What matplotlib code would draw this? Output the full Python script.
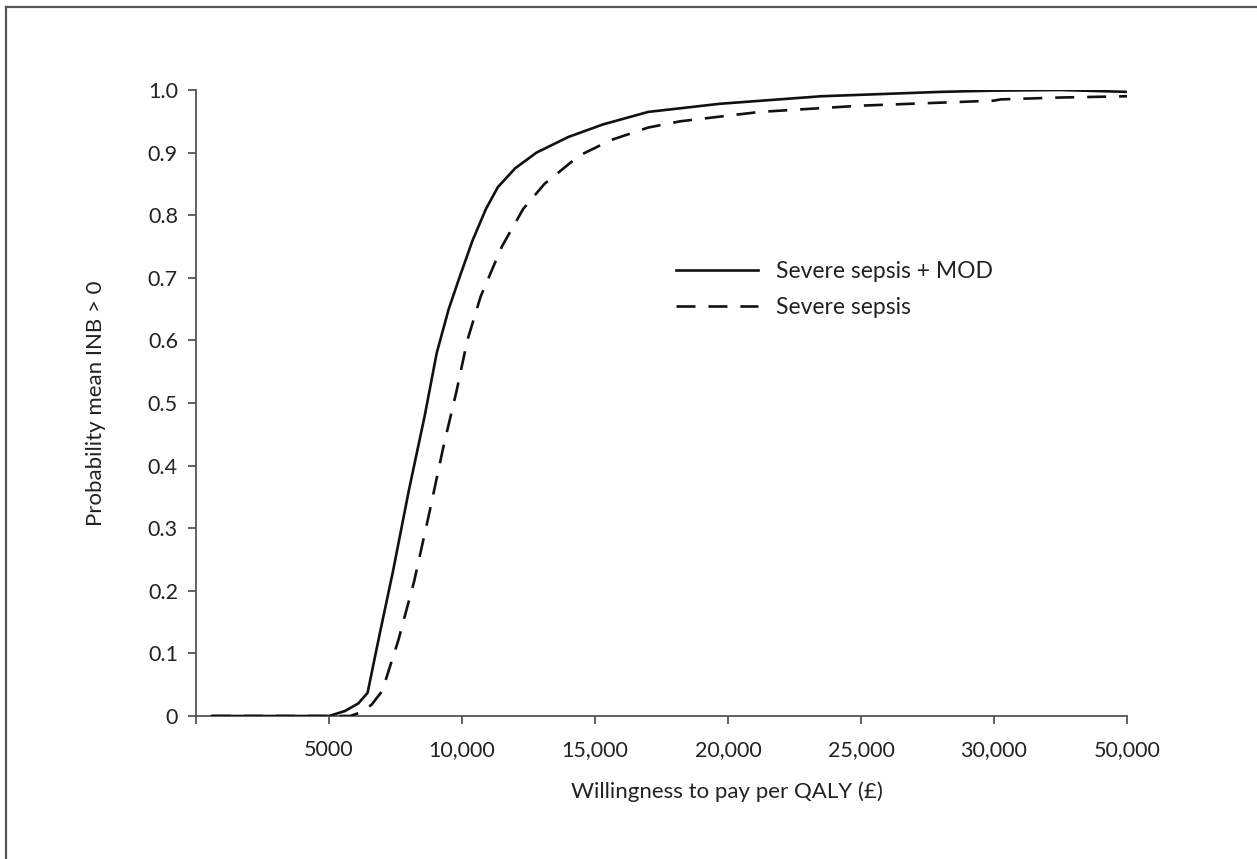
import numpy as np
import matplotlib
matplotlib.use("Agg")
import matplotlib.pyplot as plt
from matplotlib.lines import Line2D

# ---- data ----
tick_values = [0, 5000, 10000, 15000, 20000, 25000, 30000, 50000]
tick_labels = ["", "5000", "10,000", "15,000", "20,000", "25,000", "30,000", "50,000"]

wtp_mod = [600, 2000, 4000, 5000, 5600, 6100, 6450, 6900, 7400, 8000, 8600, 9050,
           9500, 9900, 10400, 10900, 11350, 12000, 12800, 14000, 15300, 17000,
           19700, 23500, 28000, 30000, 40000, 50000]
p_mod = [0, 0, 0, 0, 0.008, 0.02, 0.037, 0.13, 0.23, 0.36, 0.48, 0.58,
         0.65, 0.70, 0.76, 0.81, 0.845, 0.875, 0.90, 0.925, 0.945, 0.965,
         0.978, 0.99, 0.997, 0.999, 1.0, 0.997]

wtp_sep = [600, 3000, 5000, 5800, 6200, 6600, 7000, 7600, 8200, 8800, 9300, 9800,
           10200, 10700, 11500, 12300, 13100, 14400, 15600, 17000, 18200, 21200,
           25000, 30000, 31000, 40000, 50000]
p_sep = [0, 0, 0, 0, 0.006, 0.018, 0.04, 0.12, 0.215, 0.33, 0.43, 0.52,
         0.60, 0.67, 0.75, 0.81, 0.85, 0.895, 0.92, 0.94, 0.95, 0.965,
         0.975, 0.983, 0.985, 0.988, 0.99]

series_labels = ["Severe sepsis + MOD", "Severe sepsis"]

# ---- styling ----
plt.rcParams['font.family'] = ['Lato', 'DejaVu Sans']
txt = "#222222"
axc = "#555555"

fig = plt.figure(figsize=(12.57, 8.59), dpi=100)
W, H = 1257, 859
ax = fig.add_axes([196 / W, 1 - 716 / H, (1127 - 196) / W, (716 - 90) / H])

positions = np.arange(len(tick_values))


def to_pos(v):
    return np.interp(v, tick_values, positions)


ax.plot(to_pos(wtp_mod), p_mod, color="#111111", lw=1.9,
        solid_joinstyle="round", label=series_labels[0], zorder=3)
ax.plot(to_pos(wtp_sep), p_sep, color="#111111", lw=1.9, dashes=(7.2, 4.9),
        label=series_labels[1], zorder=3)

ax.set_xlim(0, len(tick_values) - 1)
ax.set_ylim(0, 1.0)
ax.set_xticks(positions)
ax.set_xticklabels(tick_labels)
yt = np.round(np.arange(0, 1.01, 0.1), 1)
ax.set_yticks(yt)
ax.set_yticklabels(["0"] + [f"{v:.1f}" for v in yt[1:]])

for s in ["top", "right"]:
    ax.spines[s].set_visible(False)
for s in ["left", "bottom"]:
    ax.spines[s].set_color(axc)
    ax.spines[s].set_linewidth(1.3)

ax.tick_params(axis="both", direction="out", color=axc, width=1.3, length=6,
               labelsize=15.5, labelcolor=txt)
ax.tick_params(axis="y", pad=7)
ax.tick_params(axis="x", pad=11)

ax.set_xlabel("Willingness to pay per QALY (£)", fontsize=16, color=txt)
ax.xaxis.set_label_coords((727 - 196) / (1127 - 196), -(792 - 716) / (716 - 90))
ax.xaxis.label.set_verticalalignment("center")
ax.set_ylabel("Probability mean INB > 0", fontsize=16, color=txt, labelpad=30)

leg = ax.legend(loc="upper left", bbox_to_anchor=(0.4934, 0.759), frameon=False,
                fontsize=16.5, handlelength=3.58, handletextpad=0.79,
                labelspacing=0.65)
for t in leg.get_texts():
    t.set_color(txt)

# outer frame (only top/left visible in the reference)
fig.add_artist(Line2D([6 / W, 6 / W], [0, 1 - 7 / H], transform=fig.transFigure,
                      color="#555555", lw=1.6))
fig.add_artist(Line2D([6 / W, 1], [1 - 7 / H, 1 - 7 / H], transform=fig.transFigure,
                      color="#555555", lw=1.6))

fig.savefig("out.png", dpi=100)
